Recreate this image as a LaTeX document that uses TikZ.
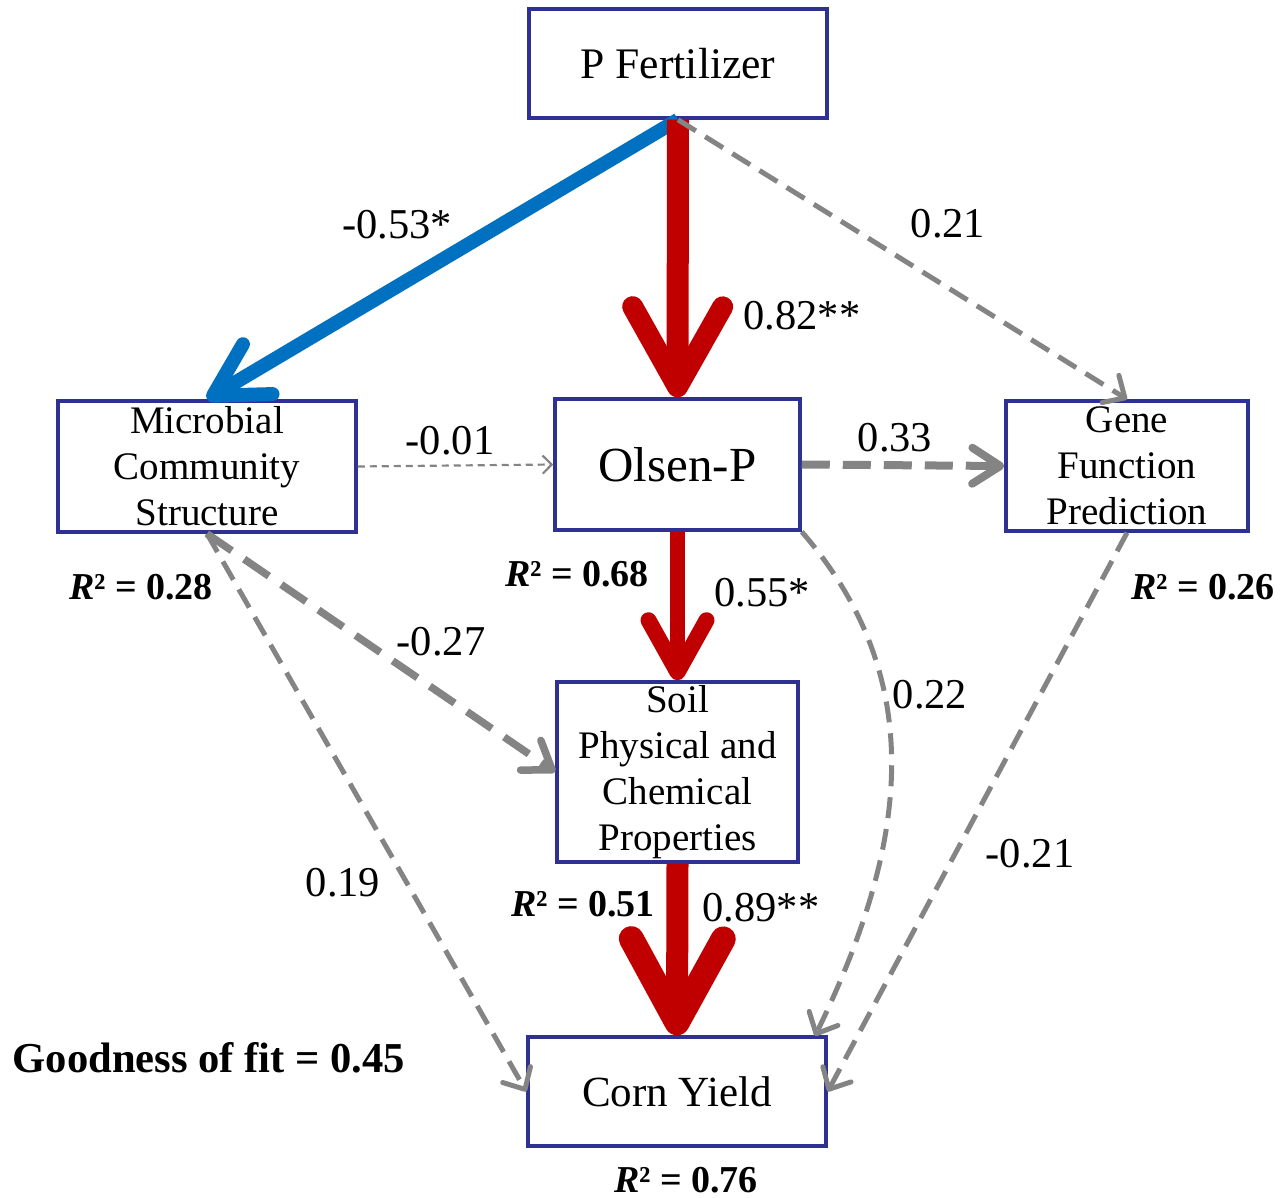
\documentclass[tikz,border=0pt]{standalone}
\usepackage{fontspec}
\setmainfont{Liberation Serif}
\usetikzlibrary{arrows.meta}
\definecolor{boxc}{RGB}{46,49,146}
\definecolor{redc}{RGB}{192,0,0}
\definecolor{bluec}{RGB}{0,112,192}
\definecolor{grayc}{RGB}{132,132,132}
\tikzset{
  box/.style={draw=boxc, line width=3.5pt, fill=white, inner sep=0pt, align=center},
  boxtxt/.style={font=\fontsize{39}{46}\selectfont},
  lab/.style={anchor=base, inner sep=0pt, font=\fontsize{42.5}{50}\selectfont},
  rlab/.style={anchor=base, inner sep=0pt, font=\bfseries\fontsize{38}{46}\selectfont},
  gline/.style={draw=grayc, line cap=butt},
  thin dash/.style={gline, line width=5pt, dash pattern=on 21pt off 11pt, -{Straight Barb[round,length=17pt,width=32pt]}},
}
\newcommand{\Rsq}[1]{\textit{R}² = #1}
\begin{document}
\begin{tikzpicture}[x=1pt,y=-1pt]
\useasboundingbox (0,0) rectangle (1282,1198);
% boxes
\node[box, minimum width=298pt, minimum height=109pt, font=\fontsize{43.6}{50}\selectfont] (pf) at (678,63.5) {P Fertilizer};
\node[box, boxtxt, minimum width=298pt, minimum height=131pt] (mcs) at (207,466.5) {Microbial\\Community\\Structure};
\node[box, minimum width=245pt, minimum height=131pt, font=\fontsize{49}{56}\selectfont] (op) at (677.5,464.5) {Olsen-P};
\node[box, boxtxt, minimum width=242pt, minimum height=130pt] (gfp) at (1127,466) {Gene\\Function\\Prediction};
\node[box, boxtxt, minimum width=241pt, minimum height=180pt] (spc) at (677.5,772) {Soil\\Physical and\\Chemical\\Properties};
\node[box, minimum width=298pt, minimum height=109pt, font=\fontsize{43}{50}\selectfont] (cy) at (677,1091.5) {Corn Yield};
\coordinate (cyin) at (815,1036);
% connectors
\draw[bluec, line width=14pt, -{Straight Barb[round,length=52pt,width=58pt]}] (pf.south) -- (mcs.north);
\draw[redc, line width=22pt, -{Straight Barb[round,length=80pt,width=90pt,line width=21pt]}] (pf.south) -- (op.north);
\draw[thin dash] (pf.south) -- (gfp.north);
\draw[gline, line width=2.2pt, dash pattern=on 7pt off 5pt, -{Straight Barb[length=9pt,width=18pt]}] (mcs.east) -- (op.west);
\draw[gline, line width=8pt, dash pattern=on 28pt off 13pt, -{Straight Barb[round,length=28pt,width=36pt,line width=8pt]}] (op.east) -- (gfp.west);
\draw[redc, line width=15pt, -{Straight Barb[round,length=52pt,width=58pt,line width=16pt]}] (op.south) -- (spc.north);
\draw[gline, line width=7.5pt, dash pattern=on 30pt off 15pt, -{Straight Barb[round,length=26pt,width=36pt]}] (mcs.south) -- (spc.west);
\draw[thin dash] (mcs.south) -- (cy.west);
\draw[thin dash] (op.south east) .. controls (930,680) and (908,845) .. (cyin);
\draw[thin dash] (gfp.south) -- (cy.east);
\draw[redc, line width=22pt, -{Straight Barb[round,length=84pt,width=92pt,line width=25pt]}] (spc.south) -- (cy.north);
% labels
\node[lab] (l1) at (397,239) {-0.53*};
\node[lab] (l2) at (802,329) {0.82**};
\node[lab] (l3) at (948,238) {0.21};
\node[lab] (l4) at (450,454) {-0.01};
\node[lab] (l5) at (895,451) {0.33};
\node[rlab] (r1) at (141,599) {\Rsq{0.28}};
\node[rlab] (r2) at (577,586) {\Rsq{0.68}};
\node[rlab] (r3) at (1203,599) {\Rsq{0.26}};
\node[lab] (l6) at (762,606) {0.55*};
\node[lab] (l7) at (441,655) {-0.27};
\node[lab] (l8) at (930,708) {0.22};
\node[lab] (l9) at (343,896) {0.19};
\node[lab] (l10) at (1030,867) {-0.21};
\node[rlab] (r4) at (583,916) {\Rsq{0.51}};
\node[lab] (l11) at (761,921) {0.89**};
\node[rlab, font=\bfseries\fontsize{42.6}{48}\selectfont] (gof) at (209,1072) {Goodness of fit = 0.45};
\node[rlab] (r5) at (686,1192) {\Rsq{0.76}};
\end{tikzpicture}
\end{document}
